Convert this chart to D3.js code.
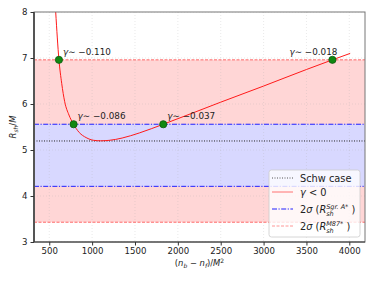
<!DOCTYPE html>
<html><head><meta charset="utf-8">
<script src="https://cdn.jsdelivr.net/npm/d3@7"></script>
<style>body{margin:0;background:#fff}svg{display:block}text{font-family:"DejaVu Sans",sans-serif}</style>
</head><body><svg id="c" width="374" height="281"></svg>
<script>
// data
const curveX = [575, 613, 645, 680, 730, 780, 850, 930, 1020, 1100, 1200, 1350, 1550, 1830, 2500, 3000, 3500, 3803, 4010];
const curveY = [8.0, 6.96, 6.45, 6.05, 5.76, 5.57, 5.38, 5.27, 5.21, 5.20, 5.21, 5.26, 5.37, 5.56, 6.04, 6.39, 6.75, 6.96, 7.10];
const pointX = [613, 784, 1830, 3803];
const pointY = [6.96, 5.56, 5.56, 6.96];
const pointLabels = ["\u22120.110", "\u22120.086", "\u22120.037", "\u22120.018"];
const schw = 5.196;
const sgrBand = [4.21, 5.56];
const m87Band = [3.43, 6.96];
const xTicks = [500, 1000, 1500, 2000, 2500, 3000, 3500, 4000];
const yTicks = [3, 4, 5, 6, 7, 8];

const svg = d3.select("#c");
const L = 34, T = 12, R = 365, B = 242;
const x = d3.scaleLinear().domain([322, 4183]).range([L, R]);
const y = d3.scaleLinear().domain([3, 8]).range([B, T]);

const defs = svg.append("defs");
defs.append("clipPath").attr("id", "clip").append("rect").attr("x", L).attr("y", T).attr("width", R - L).attr("height", B - T);
const g = svg.append("g").attr("clip-path", "url(#clip)");

// bands
g.append("rect").attr("x", L).attr("width", R - L).attr("y", y(m87Band[1])).attr("height", y(m87Band[0]) - y(m87Band[1])).attr("fill", "#ffd6d6");
g.append("rect").attr("x", L).attr("width", R - L).attr("y", y(sgrBand[1])).attr("height", y(sgrBand[0]) - y(sgrBand[1])).attr("fill", "#d8d8ff");

// grid
xTicks.forEach(t => g.append("line").attr("x1", x(t)).attr("x2", x(t)).attr("y1", T).attr("y2", B).attr("stroke", "#b0b0b0").attr("stroke-opacity", 0.35).attr("stroke-width", 0.8).attr("stroke-dasharray", "1,2"));
yTicks.forEach(t => g.append("line").attr("y1", y(t)).attr("y2", y(t)).attr("x1", L).attr("x2", R).attr("stroke", "#b0b0b0").attr("stroke-opacity", 0.35).attr("stroke-width", 0.8).attr("stroke-dasharray", "1,2"));

// horizontal lines
m87Band.forEach(v => g.append("line").attr("x1", L).attr("x2", R).attr("y1", y(v)).attr("y2", y(v)).attr("stroke", "#ff5050").attr("stroke-opacity", 0.85).attr("stroke-width", 1).attr("stroke-dasharray", "3,1.5"));
sgrBand.forEach(v => g.append("line").attr("x1", L).attr("x2", R).attr("y1", y(v)).attr("y2", y(v)).attr("stroke", "#2020ff").attr("stroke-width", 1).attr("stroke-dasharray", "5,1.5,1.2,1.5"));
g.append("line").attr("x1", L).attr("x2", R).attr("y1", y(schw)).attr("y2", y(schw)).attr("stroke", "#222").attr("stroke-width", 1).attr("stroke-dasharray", "1,1.5");

// curve
const pts = curveX.map((v, i) => [v, curveY[i]]);
g.append("path").datum(pts).attr("fill", "none").attr("stroke", "#ff1a1a").attr("stroke-width", 1)
  .attr("d", d3.line().x(d => x(d[0])).y(d => y(d[1])).curve(d3.curveMonotoneX));

// markers
pointX.forEach((v, i) => g.append("circle").attr("cx", x(v)).attr("cy", y(pointY[i])).attr("r", 3.6).attr("fill", "#118811").attr("stroke", "#0a5a0a").attr("stroke-width", 0.8));

// labels
pointX.forEach((v, i) => {
  const last = i === 3;
  const t = svg.append("text").attr("font-size", 8.8).attr("fill", "#222")
    .attr("x", last ? x(v) + 5 : x(v) + 4).attr("y", y(pointY[i]) - 5)
    .attr("text-anchor", last ? "end" : "start");
  t.append("tspan").attr("font-style", "italic").text("\u03b3");
  t.append("tspan").text("\u223c " + pointLabels[i]);
});

// frame
svg.append("rect").attr("x", L).attr("y", T).attr("width", R - L).attr("height", B - T).attr("fill", "none").attr("stroke", "#777").attr("stroke-width", 1);
svg.append("line").attr("x1", L).attr("x2", L).attr("y1", T).attr("y2", B).attr("stroke", "#555").attr("stroke-width", 2);
svg.append("line").attr("x1", L).attr("x2", R).attr("y1", B).attr("y2", B).attr("stroke", "#333").attr("stroke-width", 1);

// axes
const xa = svg.append("g").attr("transform", `translate(0,${B})`).call(d3.axisBottom(x).tickValues(xTicks).tickSize(3.5).tickPadding(2.5).tickFormat(d3.format("d")));
const ya = svg.append("g").attr("transform", `translate(${L},0)`).call(d3.axisLeft(y).tickValues(yTicks).tickSize(3.5).tickPadding(3).tickFormat(d3.format("d")));
[xa, ya].forEach(a => {
  a.select(".domain").remove();
  a.selectAll("line").attr("stroke", "#333");
  a.selectAll("text").attr("font-size", 8.6).attr("fill", "#222").attr("font-family", "DejaVu Sans");
});

// axis labels
const xl = svg.append("text").attr("x", (L + R) / 2).attr("y", 266).attr("text-anchor", "middle").attr("font-size", 8.4).attr("fill", "#222");
xl.append("tspan").text("(");
xl.append("tspan").attr("font-style", "italic").text("n");
xl.append("tspan").attr("font-size", 6).attr("font-style", "italic").attr("dy", 2).text("b");
xl.append("tspan").attr("dy", -2).text(" \u2212 ");
xl.append("tspan").attr("font-style", "italic").text("n");
xl.append("tspan").attr("font-size", 6).attr("font-style", "italic").attr("dy", 2).text("f");
xl.append("tspan").attr("dy", -2).text(")/");
xl.append("tspan").attr("font-style", "italic").text("M");
xl.append("tspan").attr("font-size", 6).attr("dy", -3.5).text("2");

const yl = svg.append("text").attr("transform", `translate(16,${(T + B) / 2}) rotate(-90)`).attr("text-anchor", "middle").attr("font-size", 8.4).attr("fill", "#222");
yl.append("tspan").attr("font-style", "italic").text("R");
yl.append("tspan").attr("font-size", 6).attr("font-style", "italic").attr("dy", 2).text("sh");
yl.append("tspan").attr("dy", -2).text("/");
yl.append("tspan").attr("font-style", "italic").text("M");

// legend
const lg = svg.append("g");
lg.append("rect").attr("x", 269).attr("y", 170).attr("width", 91).attr("height", 67).attr("rx", 2.5)
  .attr("fill", "#fff").attr("fill-opacity", 0.8).attr("stroke", "#ccc").attr("stroke-width", 0.8);
const rows = [178, 192, 209, 226];
const styles = [
  {stroke: "#555", dash: "1,1.5", op: 1},
  {stroke: "#ff1a1a", dash: null, op: 0.6},
  {stroke: "#2020ff", dash: "5,1.5,1.2,1.5", op: 1},
  {stroke: "#ff5050", dash: "3,1.5", op: 0.6}
];
rows.forEach((ry, i) => {
  const l = lg.append("line").attr("x1", 272).attr("x2", 293).attr("y1", ry).attr("y2", ry)
    .attr("stroke", styles[i].stroke).attr("stroke-opacity", styles[i].op).attr("stroke-width", 1);
  if (styles[i].dash) l.attr("stroke-dasharray", styles[i].dash);
});
const fs = 9.8;
lg.append("text").attr("x", 300).attr("y", rows[0] + 3.5).attr("font-size", fs).attr("fill", "#222").text("Schw case");
const t1 = lg.append("text").attr("x", 300).attr("y", rows[1] + 3.5).attr("font-size", fs).attr("fill", "#222");
t1.append("tspan").attr("font-style", "italic").text("\u03b3");
t1.append("tspan").text(" < 0");
function bandLabel(ry, sup) {
  const t = lg.append("text").attr("x", 300).attr("y", ry + 3.5).attr("font-size", fs).attr("fill", "#222");
  t.append("tspan").text("2");
  t.append("tspan").attr("font-style", "italic").text("\u03c3");
  t.append("tspan").text(" (");
  t.append("tspan").attr("font-style", "italic").text("R");
  t.append("tspan").attr("font-size", 6.5).attr("font-style", "italic").attr("dy", -4).text(sup);
  t.append("tspan").text(" )").attr("dy", 4);
  // subscript under superscript
  const tmp = lg.append("text").attr("x", 300).attr("y", ry + 3.5).attr("font-size", fs).attr("visibility", "hidden");
  tmp.append("tspan").text("2");
  tmp.append("tspan").attr("font-style", "italic").text("\u03c3");
  tmp.append("tspan").text(" (");
  tmp.append("tspan").attr("font-style", "italic").text("R");
  const w = tmp.node().getComputedTextLength();
  tmp.remove();
  lg.append("text").attr("x", 300 + w).attr("y", ry + 6.5).attr("font-size", 6.5).attr("font-style", "italic").attr("fill", "#222").text("sh");
}
bandLabel(rows[2], "Sgr. A*");
bandLabel(rows[3], "M87*");
</script></body></html>
